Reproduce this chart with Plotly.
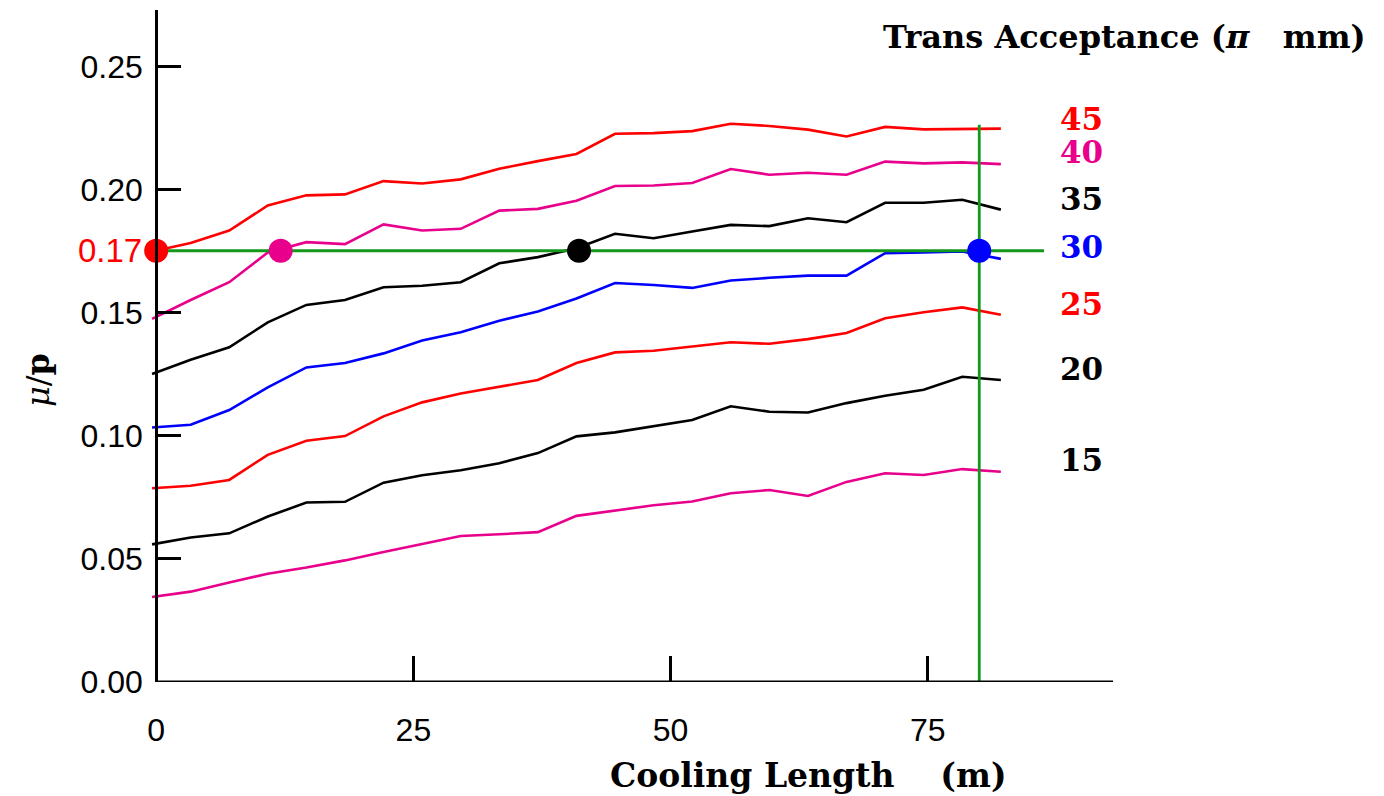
import plotly.graph_objects as go

# ---- data ----
cooling_length = [-0.4, 3.35, 7.1, 10.85, 14.6, 18.35, 22.1, 25.85, 29.6, 33.35, 37.1,
                  40.85, 44.6, 48.35, 52.1, 55.85, 59.6, 63.35, 67.1, 70.85, 74.6, 78.35, 82.1]

acc45 = [0.1749, 0.1783, 0.1834, 0.1936, 0.1977, 0.1981, 0.2035, 0.2025, 0.2042, 0.2085, 0.2116,
         0.2145, 0.2227, 0.2230, 0.2238, 0.2268, 0.2259, 0.2244, 0.2216, 0.2255, 0.2245, 0.2248, 0.2248]
acc40 = [0.1475, 0.1552, 0.1624, 0.1745, 0.1787, 0.1779, 0.1859, 0.1834, 0.1841, 0.1915, 0.1922,
         0.1955, 0.2015, 0.2017, 0.2027, 0.2084, 0.2061, 0.2069, 0.2061, 0.2114, 0.2107, 0.2111, 0.2104]
acc35 = [0.1251, 0.1309, 0.1360, 0.1461, 0.1532, 0.1552, 0.1604, 0.1610, 0.1624, 0.1701, 0.1726,
         0.1762, 0.1821, 0.1803, 0.1830, 0.1857, 0.1852, 0.1884, 0.1868, 0.1947, 0.1947, 0.1959, 0.1919]
acc30 = [0.1034, 0.1045, 0.1105, 0.1197, 0.1278, 0.1296, 0.1335, 0.1387, 0.1421, 0.1468, 0.1505,
         0.1558, 0.1621, 0.1613, 0.1601, 0.1631, 0.1642, 0.1651, 0.1651, 0.1742, 0.1745, 0.1749, 0.1719]
acc25 = [0.0787, 0.0797, 0.0821, 0.0923, 0.0980, 0.0999, 0.1079, 0.1136, 0.1172, 0.1199, 0.1227,
         0.1296, 0.1339, 0.1346, 0.1364, 0.1380, 0.1374, 0.1393, 0.1418, 0.1478, 0.1502, 0.1522, 0.1492]
acc20 = [0.0559, 0.0587, 0.0604, 0.0672, 0.0729, 0.0732, 0.0810, 0.0840, 0.0860, 0.0889, 0.0930,
         0.0998, 0.1014, 0.1038, 0.1064, 0.1120, 0.1098, 0.1095, 0.1133, 0.1163, 0.1187, 0.1240, 0.1227]
acc15 = [0.0345, 0.0367, 0.0404, 0.0440, 0.0465, 0.0494, 0.0528, 0.0559, 0.0593, 0.0600, 0.0609,
         0.0675, 0.0695, 0.0718, 0.0733, 0.0767, 0.0780, 0.0756, 0.0813, 0.0848, 0.0841, 0.0865, 0.0854]

series_names = ["45", "40", "35", "30", "25", "20", "15"]
series_values = [acc45, acc40, acc35, acc30, acc25, acc20, acc15]
series_colors = ["#ff0000", "#e8008c", "#000000", "#0000ff", "#ff0000", "#000000", "#e8008c"]
label_colors = ["#ff0000", "#e8008c", "#000000", "#0000ff", "#ff0000", "#000000", "#000000"]
label_y = [0.2289, 0.2154, 0.1963, 0.1767, 0.1536, 0.1271, 0.0901]
label_x = 89.9

target_value = 0.1752
target_text = "0.17"
hline_x = [0, 86.3]
vline_x = 80
vline_top = 0.2264
dot_x = [0, 12.1, 41.1, 80]
dot_colors = ["#ff0000", "#e8008c", "#000000", "#0000ff"]

x_ticks = [0, 25, 50, 75]
y_ticks = [0.0, 0.05, 0.10, 0.15, 0.20, 0.25]
x_range = [-0.6, 93]
y_range = [0, 0.273]

green = "#12991a"

# layout geometry (figure pixels; the page adds an 8px body margin)
W, H = 1384, 796
ML, MR, MT, MB = 142, 279, 2, 122
PW, PH = W - ML - MR, H - MT - MB
OFF = 8


def px_to_paper(px, py):
    return (px - OFF - ML) / PW, (H - MB - (py - OFF)) / PH


fig = go.Figure()
for name, vals, col in zip(series_names, series_values, series_colors):
    fig.add_trace(go.Scatter(x=cooling_length, y=vals, mode="lines",
                             line=dict(color=col, width=2.6), name=name, showlegend=False))

fig.add_trace(go.Scatter(x=hline_x, y=[target_value, target_value], mode="lines",
                         line=dict(color=green, width=2.8), showlegend=False))
fig.add_trace(go.Scatter(x=[vline_x, vline_x], y=[0, vline_top], mode="lines",
                         line=dict(color=green, width=2.8), showlegend=False))
fig.add_trace(go.Scatter(x=dot_x, y=[target_value] * len(dot_x), mode="markers",
                         marker=dict(color=dot_colors, size=24, line=dict(width=0)),
                         cliponaxis=False, showlegend=False))

serif = "DejaVu Serif, Liberation Serif, serif"
sans = "Liberation Sans, Arial, sans-serif"

for name, ly, col in zip(series_names, label_y, label_colors):
    fig.add_annotation(x=label_x, y=ly, xref="x", yref="y", text="<b>%s</b>" % name,
                       showarrow=False, font=dict(family=serif, size=31, color=col),
                       xanchor="center", yanchor="middle")

fig.add_annotation(x=0, y=target_value, xref="x", yref="y", text=target_text, showarrow=False,
                   font=dict(family=sans, size=33, color="#ff0000"), xanchor="right",
                   yanchor="middle", xshift=-12)

fig.update_layout(
    width=W, height=H,
    margin=dict(l=ML, r=MR, t=MT, b=MB, autoexpand=False),
    paper_bgcolor="white", plot_bgcolor="white",
    xaxis=dict(range=x_range, tickvals=x_ticks, ticktext=[str(v) for v in x_ticks],
               showline=False, showgrid=False, zeroline=False, automargin=False,
               ticks="inside", ticklen=26, tickwidth=3, tickcolor="black",
               tickfont=dict(family=sans, size=32, color="black"), ticklabelstandoff=26),
    yaxis=dict(range=y_range, tickvals=y_ticks, tickformat=".2f", automargin=False,
               anchor="free", position=(0 - x_range[0]) / (x_range[1] - x_range[0]),
               showline=True, linewidth=3, linecolor="black",
               showgrid=False, zeroline=False,
               ticks="inside", ticklen=23, tickwidth=3, tickcolor="black",
               tickfont=dict(family=sans, size=32, color="black"), ticklabelstandoff=6),
)

# x axis line starting at x = 0
fig.add_shape(type="line", xref="x", yref="y", x0=0, x1=x_range[1], y0=0, y1=0,
              line=dict(color="black", width=3), layer="above")

# titles
tx, ty = px_to_paper(1368, 37)
fig.add_annotation(x=tx, y=ty, xref="paper", yref="paper",
                   text="<b>Trans Acceptance (<i>π</i>\u00a0\u00a0 mm)</b>", showarrow=False,
                   font=dict(family=serif, size=32, color="black"), xanchor="right", yanchor="middle")
cx, cy = px_to_paper(808, 775)
fig.add_annotation(x=cx, y=cy, xref="paper", yref="paper",
                   text="<b>Cooling Length\u00a0\u00a0\u00a0 (m)</b>", showarrow=False,
                   font=dict(family=serif, size=33, color="black"), xanchor="center", yanchor="middle")
mx, my = px_to_paper(38, 380)
fig.add_annotation(x=mx, y=my, xref="paper", yref="paper",
                   text="<i>μ</i>/<b>p</b>", showarrow=False, textangle=-90,
                   font=dict(family=serif, size=32, color="black"), xanchor="center", yanchor="middle")

fig.write_html("out.html")
